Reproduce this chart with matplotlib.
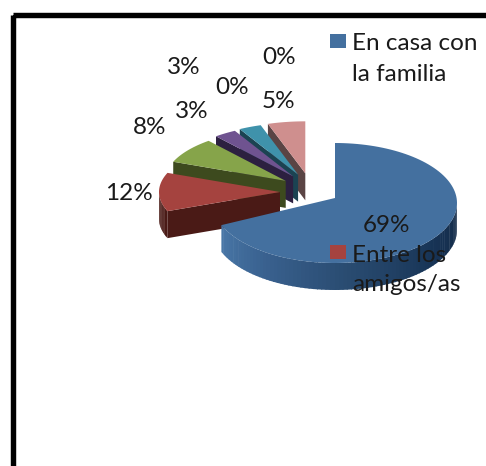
import matplotlib
matplotlib.use('Agg')
import matplotlib.pyplot as plt
from matplotlib.patches import Polygon, Rectangle
import numpy as np

# share of each slice, clockwise from 12 o'clock
values = [69, 12, 8, 3, 3, 0, 0, 5]
value_labels = ['69%', '12%', '8%', '3%', '3%', '0%', '0%', '5%']
legend_names = ['En casa con\nla familia', 'Entre los\namigos/as']

top_colors = ['#44709f', '#a5433f', '#86a44a', '#6f5390', '#3f92ab', '#c0504d', '#9bbb59', '#cf8f8e']
side_colors = ['#1f3d62', '#4a1a16', '#3d4a1e', '#2c2040', '#1b4352', '#4a1a16', '#3d4a1e', '#5a4444']

# where the labels sit, pixels
label_pos = [(386, 225), (129, 194), (150, 128), (192, 112), (184, 68), (232, 88), (279, 58), (278, 101)]

plt.rcParams['font.family'] = ['Lato', 'DejaVu Sans']

fig = plt.figure(figsize=(4.86, 4.66), dpi=100)
ax = fig.add_axes([0, 0, 1, 1])
ax.set_xlim(0, 486)
ax.set_ylim(466, 0)
ax.axis('off')

# black frame running off the right and bottom
ax.add_patch(Rectangle((12.5, 14.5), 600, 600, fill=False, ec='black', lw=3.9))

RX, RY, DEPTH = 122, 60, 27
RX2, RY2 = 121, 52
C1 = (335, 198)
C1_RIM_Y = 203
C2 = (310, 192)
EXPLODE = 30


def rim(cx, cy, rx, ry, a0, a1, n=60):
    t = np.radians(np.linspace(a0, a1, n))
    return np.column_stack([cx + rx * np.sin(t), cy - ry * np.cos(t)])


def draw_wall(cx, cy, rx, ry, a0, a1, color, shade=None):
    # outer wall, only the part facing the viewer
    lo, hi = max(a0, 90), min(a1, 270)
    if hi <= lo:
        return
    steps = np.arange(lo, hi + 2, 2.0)
    for i in range(len(steps) - 1):
        p = rim(cx, cy, rx, ry, steps[i], min(steps[i + 1] + 0.5, hi), 4)
        q = p[::-1] + [0, DEPTH]
        c = color if shade is None else shade(steps[i])
        ax.add_patch(Polygon(np.vstack([p, q]), fc=c, ec='none', zorder=2))


def blue_shade(a):
    # dark on the right, lighter towards the left end
    stops = [90, 125, 175, 215, 248]
    reds = [0x14, 0x17, 0x2a, 0x3a, 0x4a]
    greens = [0x2b, 0x33, 0x4c, 0x62, 0x78]
    blues = [0x48, 0x55, 0x72, 0x90, 0xa8]
    return (np.interp(a, stops, reds) / 255, np.interp(a, stops, greens) / 255,
            np.interp(a, stops, blues) / 255)


edges = np.concatenate([[0], np.cumsum(values)]) * 3.6

# back to front: last slice first, the big one on top
for i in range(len(values) - 1, 0, -1):
    a0, a1 = edges[i], edges[i + 1]
    if a1 <= a0:
        continue
    mid = np.radians((a0 + a1) / 2)
    cx = C2[0] + EXPLODE * np.sin(mid)
    cy = C2[1] - EXPLODE * 0.63 * np.cos(mid)
    # cut face along the lower edge
    end = rim(cx, cy, RX2, RY2, a0, a0, 1)[0]
    ax.add_patch(Polygon([(cx, cy), end, end + [0, DEPTH], (cx, cy + DEPTH)],
                         fc=side_colors[i], ec='none', zorder=2))
    draw_wall(cx, cy, RX2, RY2, a0, a1, side_colors[i])
    ax.add_patch(Polygon(np.vstack([[(cx, cy)], rim(cx, cy, RX2, RY2, a0, a1)]),
                         fc=top_colors[i], ec='none', zorder=2))

draw_wall(C1[0], C1_RIM_Y, RX, RY, edges[0], edges[1], None, blue_shade)
ax.add_patch(Polygon(np.vstack([[C1], rim(C1[0], C1_RIM_Y, RX, RY, edges[0], edges[1], 120)]),
                     fc=top_colors[0], ec='none', zorder=3))

for txt, (x, y) in zip(value_labels, label_pos):
    ax.text(x, y, txt, ha='center', va='center', fontsize=17.5, color='#1a1a1a', zorder=5)

# legend sits on top of the pie, as in the source
legend_y = [41, 252]
text_y = [59, 270]
spacing = [1.6, 1.5]
for name, y, ty, c, sp in zip(legend_names, legend_y, text_y, top_colors, spacing):
    ax.add_patch(Rectangle((329.5, y - 7), 16, 14, fc=c, ec='none', zorder=6))
    ax.text(352, ty, name, ha='left', va='center', fontsize=17.5, linespacing=sp,
            color='#1a1a1a', zorder=6)

plt.savefig('out.png', dpi=100)
